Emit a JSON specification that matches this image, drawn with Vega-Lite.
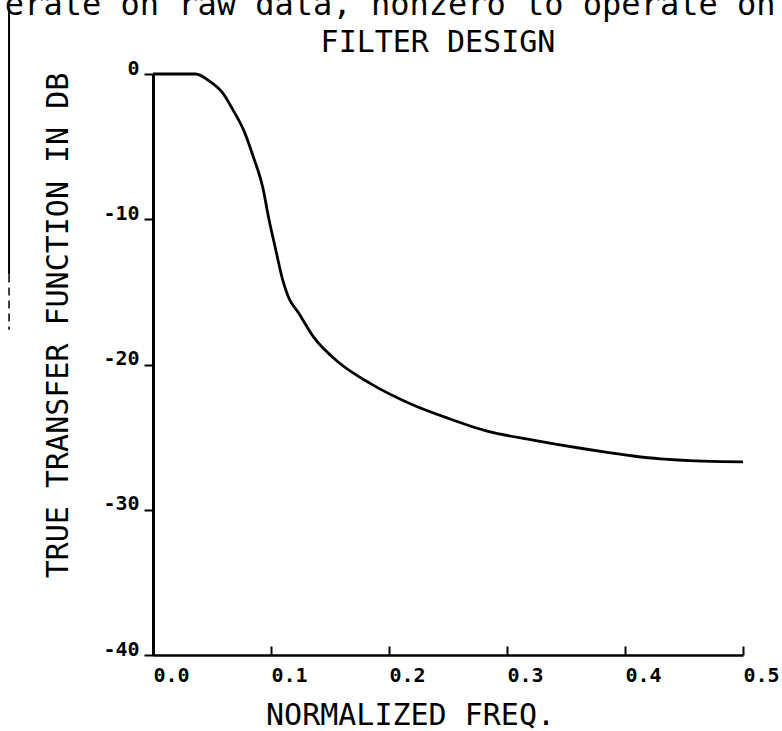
{
  "$schema": "https://vega.github.io/schema/vega-lite/v6.json",
  "width": 590,
  "height": 581,
  "autosize": {"type": "none"},
  "padding": {"left": 153, "top": 74, "right": 39, "bottom": 76},
  "background": "white",
  "config": {"view": {"stroke": null}},
  "datasets": {
    "curve": [
      {"freq": 0.000, "db": 0.0},
      {"freq": 0.020, "db": 0.0},
      {"freq": 0.036, "db": 0.0},
      {"freq": 0.048, "db": -0.5},
      {"freq": 0.059, "db": -1.3},
      {"freq": 0.068, "db": -2.5},
      {"freq": 0.077, "db": -3.9},
      {"freq": 0.085, "db": -5.7},
      {"freq": 0.093, "db": -7.8},
      {"freq": 0.098, "db": -9.9},
      {"freq": 0.104, "db": -12.1},
      {"freq": 0.110, "db": -14.2},
      {"freq": 0.115, "db": -15.4},
      {"freq": 0.123, "db": -16.4},
      {"freq": 0.136, "db": -18.1},
      {"freq": 0.158, "db": -19.9},
      {"freq": 0.184, "db": -21.3},
      {"freq": 0.218, "db": -22.7},
      {"freq": 0.250, "db": -23.7},
      {"freq": 0.284, "db": -24.6},
      {"freq": 0.322, "db": -25.2},
      {"freq": 0.365, "db": -25.8},
      {"freq": 0.385, "db": -26.05},
      {"freq": 0.407, "db": -26.3},
      {"freq": 0.430, "db": -26.5},
      {"freq": 0.467, "db": -26.65},
      {"freq": 0.500, "db": -26.7}
    ],
    "note": [{"t": "erate on raw data, nonzero to operate on"}],
    "heading": [{"t": "FILTER DESIGN"}]
  },
  "layer": [
    {
      "data": {"name": "curve"},
      "mark": {"type": "line", "color": "black", "strokeWidth": 2.8, "interpolate": "monotone"},
      "encoding": {
        "x": {
          "field": "freq", "type": "quantitative",
          "scale": {"domain": [0, 0.5], "nice": false, "zero": false},
          "axis": {
            "title": "NORMALIZED FREQ.",
            "values": [0, 0.1, 0.2, 0.3, 0.4, 0.5],
            "format": ".1f",
            "grid": false,
            "domainColor": "black", "domainWidth": 2.4,
            "tickColor": "black", "tickWidth": 2, "tickSize": -9,
            "labelFont": "DejaVu Sans Mono", "labelFontSize": 20, "labelFontWeight": "bold", "labelColor": "black",
            "labelAlign": "left", "labelBaseline": "top", "labelPadding": 19, "labelFlush": false, "labelOverlap": false,
            "titleFont": "DejaVu Sans Mono", "titleFontSize": 30, "titleFontWeight": "normal", "titleColor": "black",
            "titleX": 257, "titleY": 69, "titleAlign": "center", "titleBaseline": "alphabetic"
          }
        },
        "y": {
          "field": "db", "type": "quantitative",
          "scale": {"domain": [-40, 0], "nice": false, "zero": false},
          "axis": {
            "title": "TRUE TRANSFER FUNCTION IN DB",
            "values": [0, -10, -20, -30, -40],
            "labelExpr": "'' + datum.value",
            "grid": false,
            "domainColor": "black", "domainWidth": 3,
            "tickColor": "black", "tickWidth": 2, "tickSize": 9,
            "labelFont": "DejaVu Sans Mono", "labelFontSize": 20, "labelFontWeight": "bold", "labelColor": "black",
            "labelAlign": "right", "labelBaseline": "alphabetic", "labelPadding": 5, "labelFlush": false, "labelOverlap": false,
            "titleFont": "DejaVu Sans Mono", "titleFontSize": 30, "titleFontWeight": "normal", "titleColor": "black",
            "titleX": -86, "titleY": 251, "titleAlign": "center", "titleBaseline": "alphabetic", "titleAngle": -90
          }
        }
      }
    },
    {
      "data": {"name": "heading"},
      "mark": {"type": "text", "font": "DejaVu Sans Mono", "fontSize": 30, "color": "black", "align": "center", "baseline": "alphabetic"},
      "encoding": {
        "text": {"field": "t"},
        "x": {"datum": 0.2415},
        "y": {"datum": 1.5}
      }
    },
    {
      "data": {"name": "note"},
      "mark": {"type": "text", "font": "DejaVu Sans Mono", "fontSize": 32, "color": "black", "align": "center", "baseline": "alphabetic"},
      "encoding": {
        "text": {"field": "t"},
        "x": {"datum": 0.201},
        "y": {"datum": 4.05}
      }
    },
    {
      "data": {"values": [{}]},
      "mark": {"type": "rule", "color": "black", "strokeWidth": 2},
      "encoding": {
        "x": {"datum": -0.122},
        "y": {"datum": 4.5},
        "y2": {"datum": -13.8}
      }
    },
    {
      "data": {"values": [{}]},
      "mark": {"type": "rule", "color": "black", "strokeWidth": 1.5, "strokeDash": [8, 5]},
      "encoding": {
        "x": {"datum": -0.122},
        "y": {"datum": -13.8},
        "y2": {"datum": -17.6}
      }
    }
  ]
}
